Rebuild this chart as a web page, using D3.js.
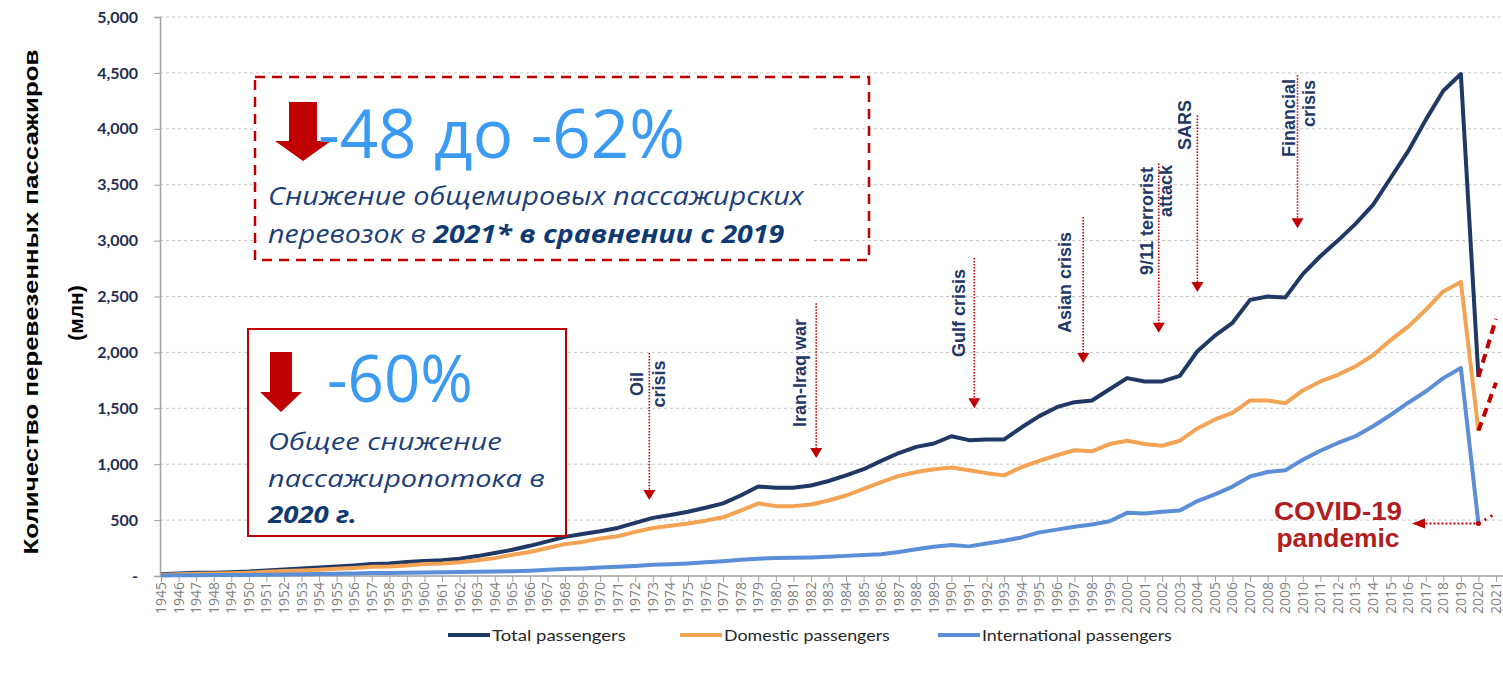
<!DOCTYPE html>
<html><head><meta charset="utf-8">
<script src="https://cdn.jsdelivr.net/npm/d3@7"></script>
<style>body{margin:0;background:#fff;} svg{display:block;}</style>
</head><body>
<svg id="chart" width="1503" height="674"></svg>
<script>
// ---------------- DATA ----------------
const years = [1945,1946,1947,1948,1949,1950,1951,1952,1953,1954,1955,1956,1957,1958,1959,
  1960,1961,1962,1963,1964,1965,1966,1967,1968,1969,1970,1971,1972,1973,1974,1975,1976,1977,
  1978,1979,1980,1981,1982,1983,1984,1985,1986,1987,1988,1989,1990,1991,1992,1993,1994,1995,
  1996,1997,1998,1999,2000,2001,2002,2003,2004,2005,2006,2007,2008,2009,2010,2011,2012,2013,
  2014,2015,2016,2017,2018,2019,2020,2021];

// values 1945..2020 (million passengers)
const totalPassengers = [15,22,28,30,34, 40,50,58,66,75, 85,95,108,112,125, 135,142,155,178,205,
  235,270,310,350,375, 400,430,475,520,545, 575,610,650,720,800, 790,790,810,850,900,
  955,1030,1100,1155,1185, 1250,1215,1222,1222,1330, 1430,1510,1555,1570,1670,
  1770,1740,1740,1790,2010, 2150,2265,2470,2500,2490, 2700,2860,3000,3150,3320,
  3560,3800,4080,4340,4490, 1780];
const domesticPassengers = [10,16,20,22,25, 30,38,44,50,57, 65,72,82,85,94, 108,112,122,140,160,
  190,215,250,285,305, 335,355,395,430,450, 470,495,525,585,650, 625,625,640,675,720,
  780,840,895,930,955, 970,945,920,900,975, 1030,1080,1125,1115,1180,
  1210,1180,1165,1210,1320, 1400,1460,1570,1570,1545, 1660,1740,1800,1875,1975,
  2110,2230,2380,2545,2630, 1300];
const internationalPassengers = [5,6,7,8,9, 10,12,14,16,18, 20,23,26,27,30, 32,34,36,38,40,
  43,48,55,62,68, 75,82,90,100,105, 112,122,132,145,155, 160,163,166,172,180,
  188,195,215,240,262, 278,265,290,315,345, 390,415,440,460,490,
  565,560,575,585,670, 730,800,890,930,945, 1040,1120,1190,1250,1340,
  1440,1550,1650,1770,1860, 470];

// 2021 forecast (dashed red)
const projYears = [2020, 2021];
const totalProj = [1780, 2300];
const domesticProj = [1300, 1730];
const internationalProj = [470, 560];

const yTicks = [0,500,1000,1500,2000,2500,3000,3500,4000,4500,5000];
const yTickLabels = ["-","500","1,000","1,500","2,000","2,500","3,000","3,500","4,000","4,500","5,000"];
const seriesNames = ["Total passengers","Domestic passengers","International passengers"];

// crisis events: label lines, year where arrow sits, arrow start value, arrow tip value
const eventLines = [["Oil","crisis"],["Iran-Iraq war"],["Gulf crisis"],["Asian crisis"],
  ["9/11 terrorist","attack"],["SARS"],["Financial","crisis"]];
const eventYears = [1972.8, 1982.3, 1991.3, 1997.5, 2001.8, 2004.0, 2009.7];
const eventFrom = [1995, 2440, 2845, 3210, 3690, 4120, 4480];
const eventTo = [680, 1055, 1500, 1905, 2175, 2540, 3110];

// ---------------- CHART ----------------
const svg = d3.select("#chart");
const W = 1503, H = 674;
const x = d3.scalePoint().domain(years).range([161, 1496]);
const step = x.step();
const xf = v => x(Math.floor(v)) + (v - Math.floor(v)) * step;
const y = d3.scaleLinear().domain([0, 5000]).range([576, 17]);
const colors = ["#1f3864", "#f2a354", "#5b8ed6"];
const red = "#c00000";
const navy = "#1f3864";

// gridlines
svg.append("g").selectAll("line").data(yTicks.filter(d => d > 0)).join("line")
  .attr("x1", 160).attr("x2", W).attr("y1", d => y(d)).attr("y2", d => y(d))
  .attr("stroke", "#c4c4c4").attr("stroke-width", 1).attr("stroke-dasharray", "3,3");

// y axis
const yAxis = svg.append("g").attr("transform", "translate(160,0)")
  .call(d3.axisLeft(y).tickValues(yTicks).tickFormat((d, i) => yTickLabels[i]).tickSize(6).tickPadding(16));
yAxis.select(".domain").attr("stroke", "#a0a0a0").attr("stroke-width", 1.5);
yAxis.selectAll(".tick line").attr("stroke", "#a0a0a0");
yAxis.selectAll(".tick text").attr("fill", "#1f2d4f").attr("font-family", "Lato, 'Open Sans', sans-serif")
  .attr("font-weight", "bold").attr("font-size", 16);

// x axis
const xAxis = svg.append("g").attr("transform", "translate(0,576)")
  .call(d3.axisBottom(x).tickSize(6).tickSizeOuter(0));
xAxis.select(".domain").attr("stroke", "#a0a0a0").attr("stroke-width", 1.5).attr("d", "M160,0H1503");
xAxis.selectAll(".tick line").attr("stroke", "#a0a0a0");
xAxis.selectAll(".tick text").attr("fill", "#7f7f7f").attr("font-family", "'Open Sans', sans-serif")
  .attr("font-size", 14).attr("text-anchor", "end")
  .attr("transform", "rotate(-90)").attr("x", -6).attr("y", 0).attr("dy", "0.32em");

// y title
svg.append("text").attr("transform", "translate(38,302) rotate(-90)").attr("text-anchor", "middle")
  .attr("font-family", "'Liberation Sans', Arial, sans-serif").attr("font-weight", "bold").attr("font-size", 21)
  .attr("fill", "#000").attr("textLength", 505).attr("lengthAdjust", "spacingAndGlyphs")
  .text("Количество  перевезенных  пассажиров");
svg.append("text").attr("transform", "translate(83,313) rotate(-90)").attr("text-anchor", "middle")
  .attr("font-family", "'Liberation Sans', Arial, sans-serif").attr("font-weight", "bold").attr("font-size", 21)
  .attr("fill", "#000").text("(млн)");

// series lines
const series = [totalPassengers, domesticPassengers, internationalPassengers];
const line = d3.line().x((d, i) => x(years[i])).y(d => y(d));
series.forEach((s, k) => {
  svg.append("path").datum(s).attr("d", line).attr("fill", "none")
    .attr("stroke", colors[k]).attr("stroke-width", 4).attr("stroke-linejoin", "round");
});

// forecast 2021
const projLine = d3.line().x((d, i) => x(projYears[i])).y(d => y(d));
[totalProj, domesticProj].forEach(p => {
  svg.append("path").datum(p).attr("d", projLine).attr("fill", "none")
    .attr("stroke", red).attr("stroke-width", 4).attr("stroke-dasharray", "9,6");
});
svg.append("path").datum(internationalProj).attr("d", projLine).attr("fill", "none")
  .attr("stroke", red).attr("stroke-width", 3).attr("stroke-dasharray", "2,5");
svg.append("circle").attr("cx", x(2020)).attr("cy", y(internationalProj[0])).attr("r", 2.5).attr("fill", red);

// COVID annotation
const cy = y(internationalProj[0]);
svg.append("line").attr("x1", x(2020) - 3).attr("x2", 1424).attr("y1", cy).attr("y2", cy)
  .attr("stroke", red).attr("stroke-width", 2).attr("stroke-dasharray", "2,2");
svg.append("path").attr("d", `M1412,${cy} L1425,${cy - 5} L1425,${cy + 5} Z`).attr("fill", red);
const covid = svg.append("g").attr("font-family", "'Liberation Sans', Arial, sans-serif")
  .attr("font-weight", "bold").attr("font-size", 26).attr("fill", "#b01e22").attr("text-anchor", "middle");
covid.append("text").attr("x", 1338).attr("y", 520).attr("textLength", 128).attr("lengthAdjust", "spacingAndGlyphs").text("COVID-19");
covid.append("text").attr("x", 1338).attr("y", 547).attr("textLength", 123).attr("lengthAdjust", "spacingAndGlyphs").text("pandemic");

// crisis events
const eventLayout = [
  [{dx: -6, y: 384, a: "middle"}, {dx: 16, y: 384, a: "middle"}],
  [{dx: -10, y: 427, a: "start"}],
  [{dx: -9, y: 357, a: "start"}],
  [{dx: -12, y: 333, a: "start"}],
  [{dx: -6, y: 167, a: "end"}, {dx: 13, y: 165, a: "end"}],
  [{dx: -6, y: 150, a: "start"}],
  [{dx: -3, y: 79, a: "end"}, {dx: 17, y: 80, a: "end"}]
];
eventLines.forEach((lines, i) => {
  const ex = xf(eventYears[i]);
  const y0 = y(eventFrom[i]), y1 = y(eventTo[i]);
  svg.append("line").attr("x1", ex).attr("x2", ex).attr("y1", y0).attr("y2", y1 - 9)
    .attr("stroke", red).attr("stroke-width", 1.6).attr("stroke-dasharray", "1.5,1.5");
  svg.append("path").attr("d", `M${ex - 6},${y1 - 10} L${ex + 6},${y1 - 10} L${ex},${y1} Z`).attr("fill", red);
  lines.forEach((t, j) => {
    const L = eventLayout[i][j];
    svg.append("text").attr("transform", `translate(${ex + L.dx},${L.y}) rotate(-90)`)
      .attr("text-anchor", L.a).attr("font-family", "'Liberation Sans', Arial, sans-serif")
      .attr("font-weight", "bold").attr("font-size", 18).attr("fill", navy).text(t);
  });
});

// helper to fit text width
function fitWidth(sel, targetW) {
  const n = sel.node(); const bb = n.getBBox();
  const k = targetW / bb.width;
  sel.attr("transform", `translate(${bb.x},0) scale(${k},1) translate(${-bb.x},0)`);
}

// Annotation box 1 (dashed)
svg.append("rect").attr("x", 257).attr("y", 80).attr("width", 556).attr("height", 177).attr("fill", "#fff");
svg.append("rect").attr("x", 255).attr("y", 77).attr("width", 614).attr("height", 183)
  .attr("fill", "none").attr("stroke", red).attr("stroke-width", 2.5).attr("stroke-dasharray", "10,7");
svg.append("path").attr("d", "M289,102 H317 V141 H331 L303,161 L275,141 H289 Z").attr("fill", red);
const big1 = svg.append("text").attr("x", 318).attr("y", 158).attr("font-family", "'Open Sans', sans-serif")
  .attr("font-size", 67).attr("fill", "#3b9af2").text("-48 до -62%");
fitWidth(big1, 367);
const t1 = svg.append("text").attr("x", 268).attr("y", 205).attr("font-family", "'Open Sans', sans-serif")
  .attr("font-style", "italic").attr("font-size", 25).attr("fill", "#1d3f78").text("Снижение общемировых пассажирских");
fitWidth(t1, 537);
const t2 = svg.append("text").attr("x", 268).attr("y", 243).attr("font-family", "'Open Sans', sans-serif")
  .attr("font-style", "italic").attr("font-size", 25).attr("fill", "#1d3f78");
t2.append("tspan").text("перевозок в ");
t2.append("tspan").attr("font-weight", "bold").attr("fill", "#0f3a72").text("2021* в сравнении с 2019");
fitWidth(t2, 517);

// Annotation box 2 (solid)
svg.append("rect").attr("x", 248).attr("y", 329).attr("width", 318).attr("height", 207)
  .attr("fill", "#fff").attr("stroke", red).attr("stroke-width", 2);
svg.append("path").attr("d", "M270,352 H292 V392 H302 L281,412 L260,392 H270 Z").attr("fill", red);
const big2 = svg.append("text").attr("x", 327).attr("y", 402).attr("font-family", "'Open Sans', sans-serif")
  .attr("font-size", 66).attr("fill", "#3b9af2").text("-60%");
fitWidth(big2, 146);
const b1 = svg.append("text").attr("x", 268).attr("y", 450).attr("font-family", "'Open Sans', sans-serif")
  .attr("font-style", "italic").attr("font-size", 24).attr("fill", "#1d3f78").text("Общее снижение");
fitWidth(b1, 234);
const b2 = svg.append("text").attr("x", 268).attr("y", 487).attr("font-family", "'Open Sans', sans-serif")
  .attr("font-style", "italic").attr("font-size", 24).attr("fill", "#1d3f78").text("пассажиропотока в");
fitWidth(b2, 277);
const b3 = svg.append("text").attr("x", 268).attr("y", 523).attr("font-family", "'Open Sans', sans-serif")
  .attr("font-style", "italic").attr("font-weight", "bold").attr("font-size", 24).attr("fill", "#0f3a72").text("2020 г.");
fitWidth(b3, 90);

// Legend
const legX = [448, 680, 938];
const legW = [134, 166, 190];
seriesNames.forEach((nm, i) => {
  svg.append("line").attr("x1", legX[i]).attr("x2", legX[i] + 42).attr("y1", 635).attr("y2", 635)
    .attr("stroke", colors[i]).attr("stroke-width", 4);
  const t = svg.append("text").attr("x", legX[i] + 44).attr("y", 641).attr("font-family", "Lato, 'Open Sans', sans-serif")
    .attr("font-size", 16).attr("fill", "#262626").text(nm);
  fitWidth(t, legW[i]);
});
</script>
</body></html>
